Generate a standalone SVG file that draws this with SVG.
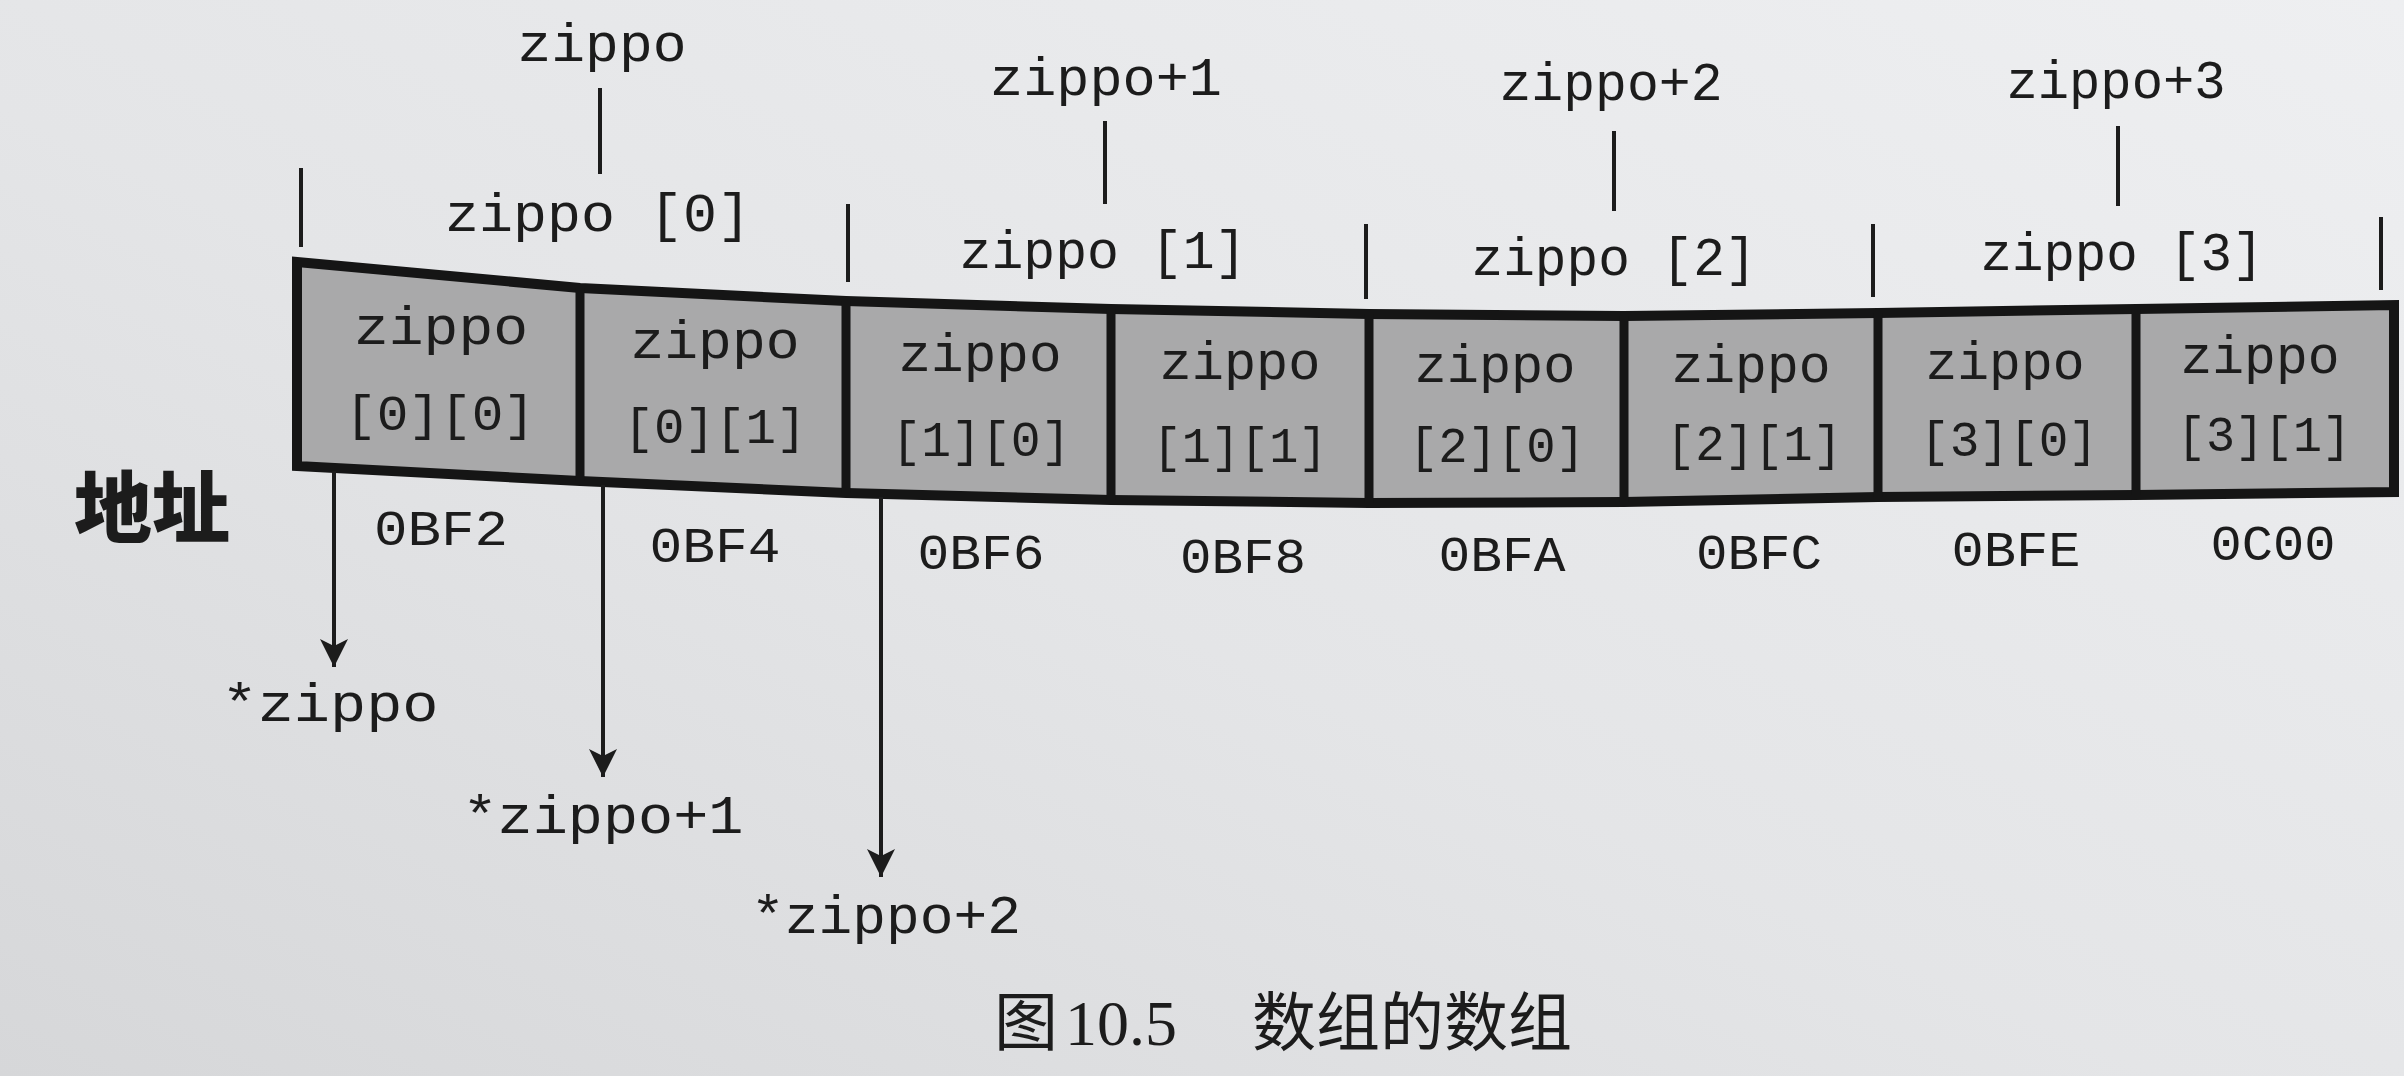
<svg xmlns="http://www.w3.org/2000/svg" width="2404" height="1076" viewBox="0 0 2404 1076">
  <defs>
    <linearGradient id="paper" x1="1" y1="0" x2="0" y2="1">
      <stop offset="0" stop-color="#eeeff1"/>
      <stop offset="0.55" stop-color="#e4e5e7"/>
      <stop offset="1" stop-color="#d6d7d9"/>
    </linearGradient>
    <marker id="arrow" markerUnits="userSpaceOnUse" markerWidth="30" markerHeight="30" viewBox="0 0 30 30" refX="29" refY="15" orient="auto">
      <path d="M1,1 L8,15 L1,29 L29,15 Z" fill="#1c1c1c"/>
    </marker>
  </defs>
  <style>
    .mono { font-family: "Liberation Mono", "DejaVu Sans Mono", monospace; fill: #1c1c1c; text-anchor: middle; }
    .top { font-size: 54px; }
    .cell { font-size: 54px; }
    .idx { font-size: 50px; }
    .addr { font-size: 50px; }
    .ln { stroke: #1c1c1c; stroke-width: 4; fill: none; }
    .box { fill: #a9a9aa; stroke: #151515; stroke-width: 10; stroke-linejoin: miter; }
    .div { stroke: #151515; stroke-width: 9; }
    .cjkb { font-family: "Noto Sans CJK SC", sans-serif; font-weight: 900; font-size: 78px; fill: #1c1c1c; }
    .cap { font-family: "Liberation Serif", "Noto Sans CJK SC", serif; font-size: 64px; fill: #1c1c1c; }
  </style>

  <rect x="0" y="0" width="2404" height="1076" fill="url(#paper)"/>

  <!-- array box -->
  <g id="array-box">
    <polygon class="box" points="297,262 580,288 846,301 1111,309 1369,314 1624,316 1878,313 2136,309 2394,305 2394,492 2136,495 1878,497 1624,502 1369,503 1111,500 846,493 580,481 297,466"/>
    <line class="div" x1="580" y1="288" x2="580" y2="481"/>
    <line class="div" x1="846" y1="301" x2="846" y2="493"/>
    <line class="div" x1="1111" y1="309" x2="1111" y2="500"/>
    <line class="div" x1="1369" y1="314" x2="1369" y2="503"/>
    <line class="div" x1="1624" y1="316" x2="1624" y2="502"/>
    <line class="div" x1="1878" y1="313" x2="1878" y2="497"/>
    <line class="div" x1="2136" y1="309" x2="2136" y2="495"/>
  </g>

  <g id="cell-0-0">
    <text class="mono cell" x="441" y="344" textLength="174" lengthAdjust="spacingAndGlyphs">zippo</text>
    <text class="mono idx" x="440" y="430" textLength="190" lengthAdjust="spacingAndGlyphs">[0][0]</text>
  </g>
  <g id="cell-0-1">
    <text class="mono cell" x="715" y="358" textLength="169" lengthAdjust="spacingAndGlyphs">zippo</text>
    <text class="mono idx" x="715" y="443" textLength="183" lengthAdjust="spacingAndGlyphs">[0][1]</text>
  </g>
  <g id="cell-1-0">
    <text class="mono cell" x="980" y="371" textLength="163" lengthAdjust="spacingAndGlyphs">zippo</text>
    <text class="mono idx" x="981" y="456" textLength="179" lengthAdjust="spacingAndGlyphs">[1][0]</text>
  </g>
  <g id="cell-1-1">
    <text class="mono cell" x="1240" y="379" textLength="161" lengthAdjust="spacingAndGlyphs">zippo</text>
    <text class="mono idx" x="1240" y="462" textLength="175" lengthAdjust="spacingAndGlyphs">[1][1]</text>
  </g>
  <g id="cell-2-0">
    <text class="mono cell" x="1495" y="382" textLength="161" lengthAdjust="spacingAndGlyphs">zippo</text>
    <text class="mono idx" x="1497" y="462" textLength="176" lengthAdjust="spacingAndGlyphs">[2][0]</text>
  </g>
  <g id="cell-2-1">
    <text class="mono cell" x="1751" y="382" textLength="159" lengthAdjust="spacingAndGlyphs">zippo</text>
    <text class="mono idx" x="1754" y="460" textLength="176" lengthAdjust="spacingAndGlyphs">[2][1]</text>
  </g>
  <g id="cell-3-0">
    <text class="mono cell" x="2005" y="379" textLength="159" lengthAdjust="spacingAndGlyphs">zippo</text>
    <text class="mono idx" x="2009" y="456" textLength="178" lengthAdjust="spacingAndGlyphs">[3][0]</text>
  </g>
  <g id="cell-3-1">
    <text class="mono cell" x="2260" y="373" textLength="159" lengthAdjust="spacingAndGlyphs">zippo</text>
    <text class="mono idx" x="2264" y="451" textLength="174" lengthAdjust="spacingAndGlyphs">[3][1]</text>
  </g>

  <!-- top labels -->
  <g id="label-zippo"><text class="mono top" x="602" y="61" textLength="169" lengthAdjust="spacingAndGlyphs">zippo</text></g>
  <g id="label-zippo-plus-1"><text class="mono top" x="1106" y="95" textLength="232" lengthAdjust="spacingAndGlyphs">zippo+1</text></g>
  <g id="label-zippo-plus-2"><text class="mono top" x="1611" y="100" textLength="223" lengthAdjust="spacingAndGlyphs">zippo+2</text></g>
  <g id="label-zippo-plus-3"><text class="mono top" x="2116" y="98" textLength="219" lengthAdjust="spacingAndGlyphs">zippo+3</text></g>

  <g id="label-zippo0"><text class="mono top" x="598" y="231" textLength="306" lengthAdjust="spacingAndGlyphs">zippo [0]</text></g>
  <g id="label-zippo1"><text class="mono top" x="1103" y="268" textLength="287" lengthAdjust="spacingAndGlyphs">zippo [1]</text></g>
  <g id="label-zippo2"><text class="mono top" x="1614" y="275" textLength="285" lengthAdjust="spacingAndGlyphs">zippo [2]</text></g>
  <g id="label-zippo3"><text class="mono top" x="2122" y="270" textLength="283" lengthAdjust="spacingAndGlyphs">zippo [3]</text></g>

  <!-- addresses -->
  <g id="label-address"><text class="cjkb" x="74" y="537">地址</text></g>
  <g id="addresses">
    <text class="mono addr" x="441" y="545" textLength="134" lengthAdjust="spacingAndGlyphs">0BF2</text>
    <text class="mono addr" x="715" y="562" textLength="131" lengthAdjust="spacingAndGlyphs">0BF4</text>
    <text class="mono addr" x="981" y="569" textLength="127" lengthAdjust="spacingAndGlyphs">0BF6</text>
    <text class="mono addr" x="1243" y="573" textLength="126" lengthAdjust="spacingAndGlyphs">0BF8</text>
    <text class="mono addr" x="1502" y="571" textLength="127" lengthAdjust="spacingAndGlyphs">0BFA</text>
    <text class="mono addr" x="1759" y="569" textLength="126" lengthAdjust="spacingAndGlyphs">0BFC</text>
    <text class="mono addr" x="2016" y="566" textLength="129" lengthAdjust="spacingAndGlyphs">0BFE</text>
    <text class="mono addr" x="2273" y="560" textLength="125" lengthAdjust="spacingAndGlyphs">0C00</text>
  </g>

  <!-- pointer targets -->
  <g id="label-deref-zippo"><text class="mono top" x="330" y="721" textLength="217" lengthAdjust="spacingAndGlyphs">*zippo</text></g>
  <g id="label-deref-zippo-plus-1"><text class="mono top" x="603" y="833" textLength="281" lengthAdjust="spacingAndGlyphs">*zippo+1</text></g>
  <g id="label-deref-zippo-plus-2"><text class="mono top" x="886" y="933" textLength="270" lengthAdjust="spacingAndGlyphs">*zippo+2</text></g>

  <!-- connectors -->
  <g id="connectors">
    <line class="ln" x1="600" y1="88" x2="600" y2="174"/>
    <line class="ln" x1="1105" y1="121" x2="1105" y2="204"/>
    <line class="ln" x1="1614" y1="131" x2="1614" y2="211"/>
    <line class="ln" x1="2118" y1="126" x2="2118" y2="206"/>
    <line class="ln" x1="301" y1="168" x2="301" y2="247"/>
    <line class="ln" x1="848" y1="204" x2="848" y2="282"/>
    <line class="ln" x1="1366" y1="224" x2="1366" y2="299"/>
    <line class="ln" x1="1873" y1="224" x2="1873" y2="297"/>
    <line class="ln" x1="2381" y1="217" x2="2381" y2="290"/>
    <line class="ln" x1="334" y1="471" x2="334" y2="667" marker-end="url(#arrow)"/>
    <line class="ln" x1="603" y1="485" x2="603" y2="777" marker-end="url(#arrow)"/>
    <line class="ln" x1="881" y1="497" x2="881" y2="877" marker-end="url(#arrow)"/>
  </g>

  <!-- caption -->
  <g id="caption">
    <text class="cap" y="1045"><tspan x="994">图</tspan><tspan x="1065">10.5</tspan><tspan x="1252">数组的数组</tspan></text>
  </g>
</svg>
